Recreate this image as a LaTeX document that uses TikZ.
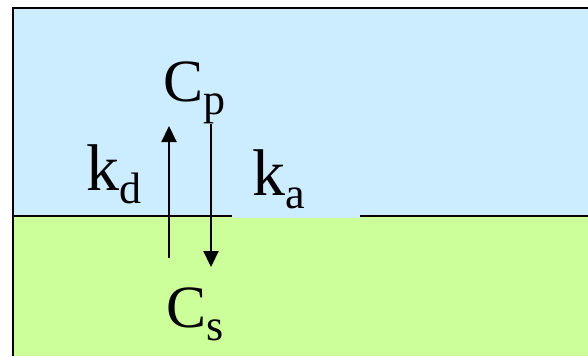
\documentclass[tikz,border=0pt]{standalone}
\usepackage{fontspec}
\setmainfont{Liberation Serif}
\usetikzlibrary{arrows.meta,positioning}

\definecolor{fluidblue}{HTML}{CCECFF}
\definecolor{surfgreen}{HTML}{CCFF99}
\newcommand{\lowidx}[1]{\raisebox{-13pt}{\fontsize{44}{44}\selectfont #1}}

\begin{document}
\begin{tikzpicture}[
    x=1pt, y=-1pt,
    conc/.style={anchor=base west, inner sep=0pt, font=\fontsize{60}{60}\selectfont},
    rate/.style={anchor=base west, inner sep=0pt, font=\fontsize{66}{66}\selectfont},
    arrow/.style={-{Triangle[length=16pt, width=15pt]}, line width=2.2pt},
    wall/.style={line width=2.6pt}
]
\useasboundingbox (0,0) rectangle (588,356);

% bulk phase and surface
\fill[fluidblue] (13,8) rectangle (588,216);
\fill[surfgreen] (13,216) rectangle (588,356);
\draw[wall] (12,8) -- (588,8);
\draw[wall] (13,8) -- (13,356);
\draw[wall] (13,216) -- (588,216);

% concentrations
\node[conc] (Cp) at (163,101) {C\lowidx{p}};
\node[conc] (Cs) at (166,327) {C\lowidx{s}};

% rate constants
\node[rate] (kd) at (86,190) {k\lowidx{d}};
\node[rate, fill=fluidblue, inner xsep=20pt, inner ysep=10pt,
      text width=88pt, align=left] (ka) at (232,195) {k\lowidx{a}};

% exchange arrows
\coordinate (uptail) at (169,258);
\coordinate (uphead) at (169,126);
\coordinate (dntail) at (211,124);
\coordinate (dnhead) at (211,267);
\draw[arrow] (uptail) -- (uphead);
\draw[arrow] (dntail) -- (dnhead);

\end{tikzpicture}
\end{document}
